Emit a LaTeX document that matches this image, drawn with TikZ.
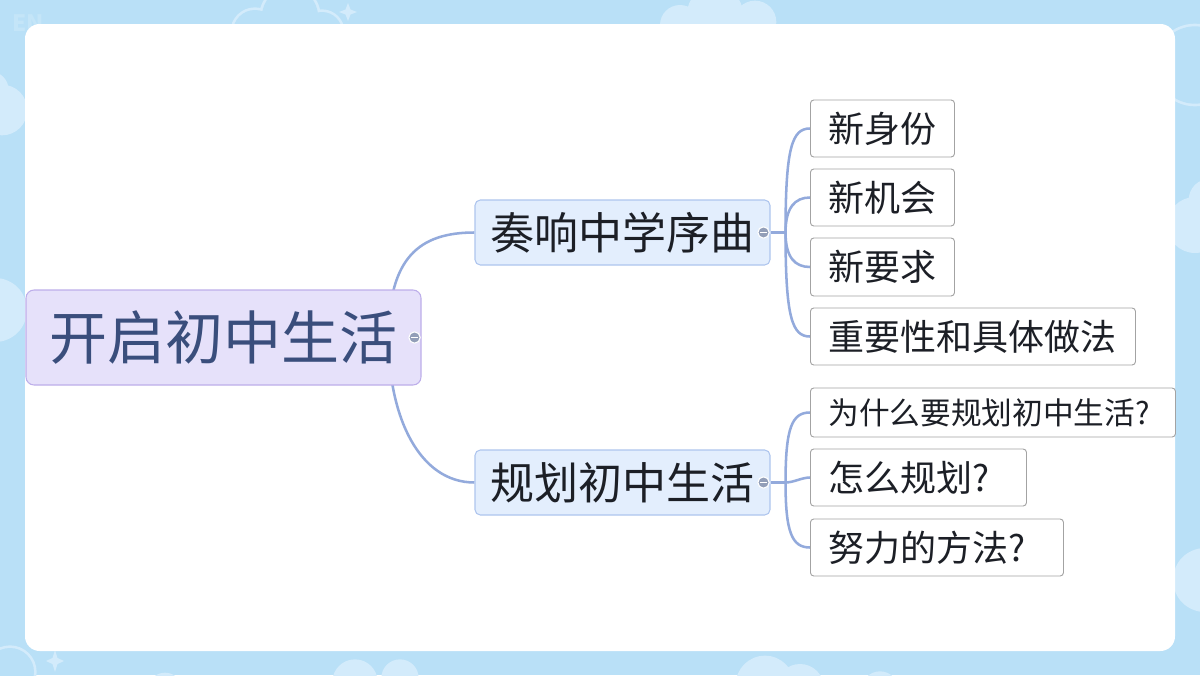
\documentclass[tikz,border=0pt]{standalone}
\usepackage{fontspec}
\setmainfont{Noto Sans CJK SC}
\usetikzlibrary{calc}
\definecolor{bgblue}{HTML}{B9E0F7}
\definecolor{cloudc}{HTML}{D3EBFB}
\definecolor{faintc}{HTML}{C4E5F8}
\definecolor{edgec}{HTML}{93AADC}
\definecolor{rootfill}{HTML}{E6E1FA}
\definecolor{rootdraw}{HTML}{BDAEEA}
\definecolor{roottext}{HTML}{3A4E7C}
\definecolor{lonefill}{HTML}{E3EEFD}
\definecolor{lonedraw}{HTML}{AEC5EE}
\definecolor{leafdraw}{HTML}{A3A3A3}
\definecolor{textc}{HTML}{1C1F26}
\definecolor{knobc}{HTML}{929EB8}
\pgfdeclarelayer{back}
\pgfdeclarelayer{edges}
\pgfsetlayers{back,edges,main}
\tikzset{
  rootbox/.style={draw=rootdraw, fill=rootfill, line width=0.8pt, rounded corners=6pt,
    minimum width=296.25pt, minimum height=71.25pt, inner sep=0pt, text=roottext,
    font=\fontsize{43.5pt}{48pt}\selectfont},
  lonebox/.style={draw=lonedraw, fill=lonefill, line width=0.8pt, rounded corners=4pt,
    minimum width=221.25pt, minimum height=48.75pt, inner sep=0pt, text=textc,
    font=\fontsize{33pt}{36pt}\selectfont},
  leaf/.style={draw=leafdraw, fill=white, line width=0.7pt, rounded corners=2.5pt,
    anchor=west, inner xsep=13.5pt, inner ysep=0pt, minimum height=42.75pt,
    align=left, text=textc, font=\fontsize{27pt}{30pt}\selectfont},
  edge/.style={draw=edgec, line width=1.9pt},
  knob/.style={circle, fill=knobc, draw=white, line width=0.8pt, minimum size=8.5pt, inner sep=0pt,
    path picture={\draw[white, line width=1pt]
      ([xshift=-2.6pt]path picture bounding box.center) -- ([xshift=2.6pt]path picture bounding box.center);}},
}
\begin{document}
\begin{tikzpicture}[x=0.75pt, y=-0.75pt]
\useasboundingbox (0,0) rectangle (1200,675);

\begin{pgfonlayer}{back}
  \fill[bgblue] (0,0) rectangle (1200,675);
  % filled clouds
  \fill[cloudc] (680,25) circle[radius=15pt] (715,14) circle[radius=21pt] (755,22) circle[radius=16pt];
  \fill[cloudc] (2,110) circle[radius=19pt] (-10,90) circle[radius=14pt];
  \fill[cloudc] (1195,225) circle[radius=21pt] (1210,200) circle[radius=16pt];
  \fill[cloudc] (-5,310) circle[radius=24pt];
  \fill[cloudc] (1205,580) circle[radius=24pt];
  \fill[cloudc] (355,682) circle[radius=17pt] (400,678) circle[radius=14pt];
  \fill[cloudc] (765,685) circle[radius=22pt] (800,688) circle[radius=18pt] (880,690) circle[radius=14pt];
  \fill[cloudc] (165,690) circle[radius=13pt];
  % outlined clouds
  \fill[cloudc] (255,32) circle[radius=18.5pt] (290,16) circle[radius=23pt] (322,32) circle[radius=17pt];
  \fill[bgblue] (255,32) circle[radius=16.5pt] (290,16) circle[radius=21pt] (322,32) circle[radius=15pt];
  \fill[cloudc] (1195,65) circle[radius=31pt];
  \fill[bgblue] (1195,65) circle[radius=29pt];
  \fill[cloudc] (10,672) circle[radius=20pt];
  \fill[bgblue] (10,672) circle[radius=18pt];
  % stars
  \fill[cloudc] (348,3) -- (350.5,9.5) -- (357,12) -- (350.5,14.5) -- (348,21) -- (345.5,14.5) -- (339,12) -- (345.5,9.5) -- cycle;
  \fill[cloudc] (55,650) -- (57.5,658) -- (64,661) -- (57.5,664) -- (55,672) -- (52.5,664) -- (46,661) -- (52.5,658) -- cycle;
  \node[text=faintc, font=\fontsize{17pt}{18pt}\selectfont\bfseries] (en) at (28,23) {EN};
  % panel
  \fill[white, rounded corners=11pt] (25,24) rectangle (1175,651);
\end{pgfonlayer}

% nodes
\node[rootbox] (root) at (223.5,337.5) {开启初中生活};
\node[lonebox] (a) at (622.5,232.5) {奏响中学序曲};
\node[lonebox] (b) at (622.5,482.5) {规划初中生活};

\node[leaf, text width=81pt] (a1) at (810,128.5) {新身份};
\node[leaf, text width=81pt] (a2) at (810,197.5) {新机会};
\node[leaf, text width=81pt, minimum height=43.5pt] (a3) at (810,267) {新要求};
\node[leaf, text width=216.75pt] (a4) at (810,336.5) {重要性和具体做法};

\node[leaf, text width=246.75pt, minimum height=36.75pt, font=\fontsize{23pt}{26pt}\selectfont] (b1) at (810,412.5) {为什么要规划初中生活?};
\node[leaf, text width=135pt] (b2) at (810,477.5) {怎么规划?};
\node[leaf, text width=162.75pt] (b3) at (810,547.5) {努力的方法?};

% collapse knobs
\node[knob] (k0) at ($(root.east)+(-7,0)$) {};
\node[knob] (ka) at ($(a.east)+(-7,0)$) {};
\node[knob] (kb) at ($(b.east)+(-7,0)$) {};

% connectors
\coordinate (rs) at ($(root.east)+(-33,0)$);
\coordinate (ha) at ($(a.east)+(15,0)$);
\coordinate (hb) at ($(b.east)+(15,0)$);
\begin{pgfonlayer}{edges}
  \draw[edge] (rs) .. controls +(0,-80) and +(-55,0) .. (a.west);
  \draw[edge] (rs) .. controls +(0,80) and +(-55,0) .. (b.west);
  \draw[edge] (a.east) -- (ha);
  \draw[edge] (b.east) -- (hb);
  \draw[edge] (ha) .. controls +(0,-85) and +(-18,0) .. (a1.west);
  \draw[edge] (ha) .. controls +(0,-25) and +(-15,0) .. (a2.west);
  \draw[edge] (ha) .. controls +(0,25) and +(-15,0) .. (a3.west);
  \draw[edge] (ha) .. controls +(0,85) and +(-18,0) .. (a4.west);
  \draw[edge] (hb) .. controls +(0,-55) and +(-18,0) .. (b1.west);
  \draw[edge] (hb) .. controls +(8,0) and +(-8,0) .. (b2.west);
  \draw[edge] (hb) .. controls +(0,50) and +(-18,0) .. (b3.west);
\end{pgfonlayer}
\end{tikzpicture}
\end{document}
